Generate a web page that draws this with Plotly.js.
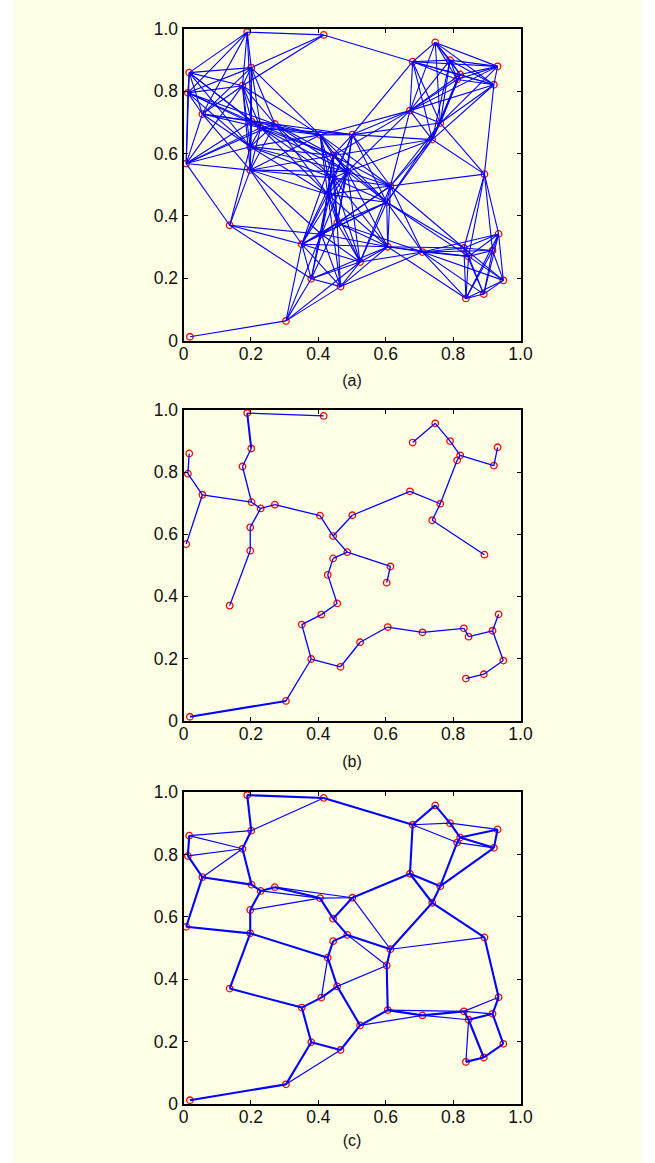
<!DOCTYPE html>
<html>
<head>
<meta charset="utf-8">
<script src="https://cdn.plot.ly/plotly-3.0.1.min.js"></script>
<style>html,body{margin:0;padding:0;background:#fff}#plot{width:655px;height:1163px}</style>
</head>
<body>
<div id="plot"></div>
<script>
var nodeX = [.019,.304,.379,.466,.351,.409,.456,.428,.137,.524,.606,.709,.832,.846,.917,.935,.949,.891,.838,.603,.614,.486,.444,.444,.405,.501,.271,.229,.202,.198,.198,.008,.056,.013,.017,.175,.201,.189,.416,.680,.672,.762,.738,.893,.747,.791,.821,.812,.921,.932];
var nodeY = [.012,.063,.198,.173,.309,.341,.377,.469,.370,.252,.301,.284,.297,.270,.289,.342,.193,.149,.135,.444,.496,.542,.522,.594,.660,.661,.695,.683,.703,.622,.547,.568,.727,.795,.860,.818,.876,.990,.981,.895,.738,.698,.645,.534,.957,.900,.854,.838,.821,.880];

// Panel (a): neighbours of each node (only higher-numbered partners listed)
var linksA = [
[1],[2,3,4,5,9],[3,4,5,6,7,8,9,10],[4,5,6,7,9,10,11],[5,6,7,8,9,10,19,21,22,23,30],
[6,7,8,9,10,19,20,21,22,23,30],[7,9,10,11,19,20,21,22,23,24,25],[9,10,19,20,21,22,23,24,25,26,27,29,30],[29,30,31],[10,11,19,20,21,22],
[11,12,13,18,19,20,21,22],[12,13,14,15,16,17,18,19,20],[13,14,15,16,17,18,19,20,43],[14,15,16,17,18,19,43],[15,16,17,18,43],
[16,17,18,43],[17,18],[18],[],[20,21,22,23,24,25,41,42],
[21,22,23,24,25,40,41,42,43],[22,23,24,25,26,27,29,30,40,42],[23,24,25,26,27,29,30],[24,25,26,27,28,29,30,40,42],[25,26,27,28,29,30,35,36,40],
[26,27,39,40,41,42],[27,28,29,30,31,32,33,35,36],[28,29,30,31,32,33,34,35,36],[29,30,31,32,33,34,35,36,37],[30,31,32,33,34,35,36],
[31,32,35],[32,33,34,35],[33,34,35,36,37],[34,35,36,37],[35,36,37],
[36,37,38],[37,38],[38],[39],[40,41,42,44,45,46,47,48,49],
[41,42,44,45,46,47,48,49],[42,43,44,45,46,47,48,49],[43,45,46,47,48],[48],[45,46,47,48,49],
[46,47,48,49],[47,48,49],[48,49],[49],[]
];

// Panel (b)
var edgesB = [[38,37],[36,35],[35,28],[28,32],[32,33],[33,34],[32,31],[28,27],[27,26],[26,24],[24,23],[23,21],[23,25],[25,40],[40,41],[41,47],[41,42],[42,43],[47,46],[45,46],[44,45],[39,44],[46,48],[48,49],[27,29],[29,30],[30,8],[21,22],[22,7],[7,6],[6,5],[5,4],[4,2],[2,1],[2,3],[3,9],[9,10],[10,11],[11,12],[12,13],[13,14],[14,15],[14,16],[16,17],[17,18],[21,20],[20,19]];
var edgesBHeavy = [[37,36],[1,0]];

// Panel (c)
var edgesCHeavy = [[37,38],[37,36],[36,35],[35,28],[28,32],[33,32],[33,34],[32,31],[31,30],[30,29],[29,27],[27,28],[27,26],[26,24],[24,23],[23,25],[23,21],[21,22],[22,7],[7,30],[7,6],[6,5],[5,4],[4,8],[8,30],[4,2],[2,1],[2,3],[1,0],[3,9],[9,6],[9,10],[10,19],[19,20],[20,42],[42,40],[40,25],[40,41],[41,42],[41,47],[47,46],[46,45],[45,44],[44,39],[39,40],[38,39],[42,43],[43,15],[15,14],[14,16],[16,17],[17,18],[14,13],[13,12],[12,11],[11,10],[46,48],[48,49],[46,49],[41,48],[17,13],[21,20]];
var edgesCLight = [[34,36],[34,35],[33,35],[32,35],[36,38],[27,24],[26,25],[24,25],[29,24],[25,20],[20,43],[5,7],[1,3],[6,19],[21,19],[9,11],[11,13],[10,12],[12,14],[12,15],[18,13],[39,45],[39,47],[45,49],[47,48]];

var tickVals = [0,0.2,0.4,0.6,0.8,1];
var tickText = ['0','0.2','0.4','0.6','0.8','1.0'];
var panelLabels = ['(a)','(b)','(c)'];

var BLUE = '#0000ff', RED = '#ff0000', PAPER = '#ffffe5';

function segments(pairs, xref, yref, width) {
  var xs = [], ys = [];
  pairs.forEach(function (p) {
    xs.push(nodeX[p[0]], nodeX[p[1]], null);
    ys.push(nodeY[p[0]], nodeY[p[1]], null);
  });
  return {x: xs, y: ys, xaxis: xref, yaxis: yref, mode: 'lines', type: 'scatter',
          line: {color: BLUE, width: width}, hoverinfo: 'skip', showlegend: false, cliponaxis: false};
}
function nodes(xref, yref) {
  return {x: nodeX, y: nodeY, xaxis: xref, yaxis: yref, mode: 'markers', type: 'scatter',
          marker: {symbol: 'circle-open', size: 6.5, color: RED, line: {color: RED, width: 1.3}},
          hoverinfo: 'skip', showlegend: false, cliponaxis: false};
}
var pairsA = [];
linksA.forEach(function (list, i) { list.forEach(function (j) { pairsA.push([i, j]); }); });

var data = [
  nodes('x', 'y'), segments(pairsA, 'x', 'y', 1.1),
  nodes('x2', 'y2'), segments(edgesB, 'x2', 'y2', 1.3), segments(edgesBHeavy, 'x2', 'y2', 2),
  nodes('x3', 'y3'), segments(edgesCLight, 'x3', 'y3', 1.2), segments(edgesCHeavy, 'x3', 'y3', 2.1)
];

var W = 655, H = 1163;
function xAxis(anchor, label, titleGap) {
  return {domain: [183.5 / W, 520.5 / W], range: [0, 1], anchor: anchor, showgrid: false, zeroline: false,
          showline: true, linecolor: '#000', linewidth: 2, mirror: 'ticks', ticks: 'inside', ticklen: 4,
          tickwidth: 1, tickcolor: '#000', tickvals: tickVals, ticktext: tickText, ticklabelstandoff: -4,
          tickfont: {family: 'Liberation Sans, Arial, sans-serif', size: 17.5, color: '#111'},
          title: {text: label, font: {family: 'Liberation Sans, Arial, sans-serif', size: 16, color: '#111'}, standoff: titleGap}};
}
function yAxis(anchor, top, bottom) {
  return {domain: [1 - bottom / H, 1 - top / H], range: [0, 1], anchor: anchor, showgrid: false, zeroline: false,
          showline: true, linecolor: '#000', linewidth: 2, mirror: 'ticks', ticks: 'inside', ticklen: 4,
          tickwidth: 1, tickcolor: '#000', tickvals: tickVals, ticktext: tickText,
          tickfont: {family: 'Liberation Sans, Arial, sans-serif', size: 17.5, color: '#111'}};
}
var layout = {
  width: W, height: H, margin: {l: 0, r: 0, t: 0, b: 0, pad: 0, autoexpand: false},
  paper_bgcolor: '#ffffff', plot_bgcolor: 'rgba(0,0,0,0)', showlegend: false,
  xaxis: xAxis('y', panelLabels[0], 12), yaxis: yAxis('x', 29, 340.5),
  xaxis2: xAxis('y2', panelLabels[1], 13), yaxis2: yAxis('x2', 410, 720.5),
  xaxis3: xAxis('y3', panelLabels[2], 9), yaxis3: yAxis('x3', 792, 1104),
  shapes: [{type: 'rect', xref: 'paper', yref: 'paper', x0: 13 / W, x1: 641 / W, y0: 0, y1: 1, layer: 'below',
            fillcolor: PAPER, line: {width: 0}}]
};
Plotly.newPlot('plot', data, layout, {staticPlot: true, displayModeBar: false});
</script>
</body>
</html>
